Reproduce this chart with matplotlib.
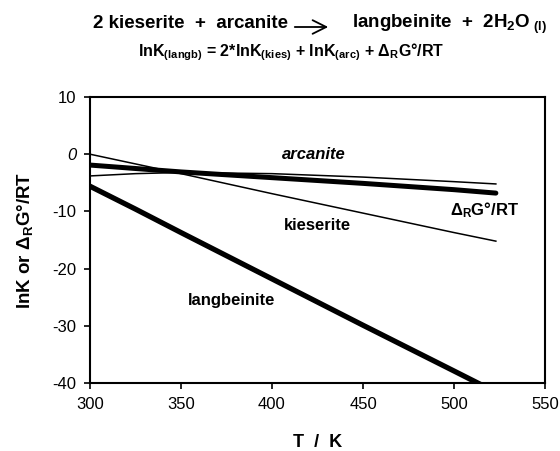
import matplotlib.pyplot as plt

plt.rcParams['font.family'] = ['Liberation Sans', 'DejaVu Sans']
plt.rcParams['mathtext.fontset'] = 'custom'
plt.rcParams['mathtext.rm'] = 'Liberation Sans:bold'
plt.rcParams['mathtext.bf'] = 'Liberation Sans:bold'
plt.rcParams['mathtext.it'] = 'Liberation Sans:bold:italic'
plt.rcParams['axes.unicode_minus'] = False

# values
T = [300, 325, 350, 400, 450, 500, 523]
arcanite = [-3.8, -3.4, -3.2, -3.4, -4.0, -4.8, -5.2]
kieserite = [0.0, -1.7, -3.4, -6.9, -10.3, -13.7, -15.2]
dG_RT = [-1.9, -2.5, -3.1, -4.1, -5.1, -6.2, -6.8]
langbeinite = [-5.6, -9.6, -13.7, -21.8, -29.9, -37.9, -41.6]

xticks = [300, 350, 400, 450, 500, 550]
yticks = [10, 0, -10, -20, -30, -40]

W, H = 560, 451
fig = plt.figure(figsize=(W / 100, H / 100), dpi=100)
ax = fig.add_axes([90 / W, 1 - 383 / H, 455 / W, 286 / H])

ax.plot(T, kieserite, color='black', lw=1.1)
ax.plot(T, arcanite, color='black', lw=1.1)
ax.plot(T, dG_RT, color='black', lw=3.6, solid_capstyle='round')
ax.plot(T, langbeinite, color='black', lw=3.8, solid_capstyle='round')

ax.set_xlim(300, 550)
ax.set_ylim(-40, 10)
ax.set_xticks(xticks)
ax.set_xticklabels([str(v) for v in xticks])
ax.set_yticks(yticks)
ylabels = ax.set_yticklabels([str(v) for v in yticks])
ylabels[1].set_style('italic')

ax.tick_params(labelsize=12, length=4, width=1.2, direction='out', pad=6)
for s in ax.spines.values():
    s.set_linewidth(1.5)

ax.set_xlabel('T  /  K', fontsize=13, fontweight='bold', labelpad=16)
ax.set_ylabel('lnK or Δ$_{\\rm R}$G°/RT', fontsize=13.5, fontweight='bold', labelpad=12)

ax.text(423, 0, 'arcanite', fontsize=12, fontweight='bold', style='italic',
        ha='center', va='center')
ax.text(425, -12.4, 'kieserite', fontsize=12, fontweight='bold',
        ha='center', va='center')
ax.text(517, -9.8, 'Δ$_{\\rm R}$G°/RT', fontsize=12, fontweight='bold',
        ha='center', va='center')
ax.text(378, -25.5, 'langbeinite', fontsize=12, fontweight='bold',
        ha='center', va='center')

# reaction and relation above the plot
fig.text(288 / W, 1 - 28 / H, '2 kieserite  +  arcanite', fontsize=13.5,
         fontweight='bold', ha='right', va='baseline')
fig.text(352 / W, 1 - 28 / H, 'langbeinite  +  2H$_2$O$_{\\ \\rm (l)}$', fontsize=13.5,
         fontweight='bold', ha='left', va='baseline')
fig.add_artist(plt.matplotlib.patches.FancyArrowPatch(
    (292 / W, 1 - 27 / H), (331 / W, 1 - 27 / H), transform=fig.transFigure,
    arrowstyle='->,head_length=0.7,head_width=0.35', mutation_scale=14, lw=1.3,
    color='black'))
fig.text(291 / W, 1 - 52 / H,
         'lnK$_{\\rm (langb)}$ = 2*lnK$_{\\rm (kies)}$ + lnK$_{\\rm (arc)}$ + Δ$_{\\rm R}$G°/RT',
         fontsize=11.5, fontweight='bold', ha='center', va='center')

fig.savefig('out.png', dpi=100)
